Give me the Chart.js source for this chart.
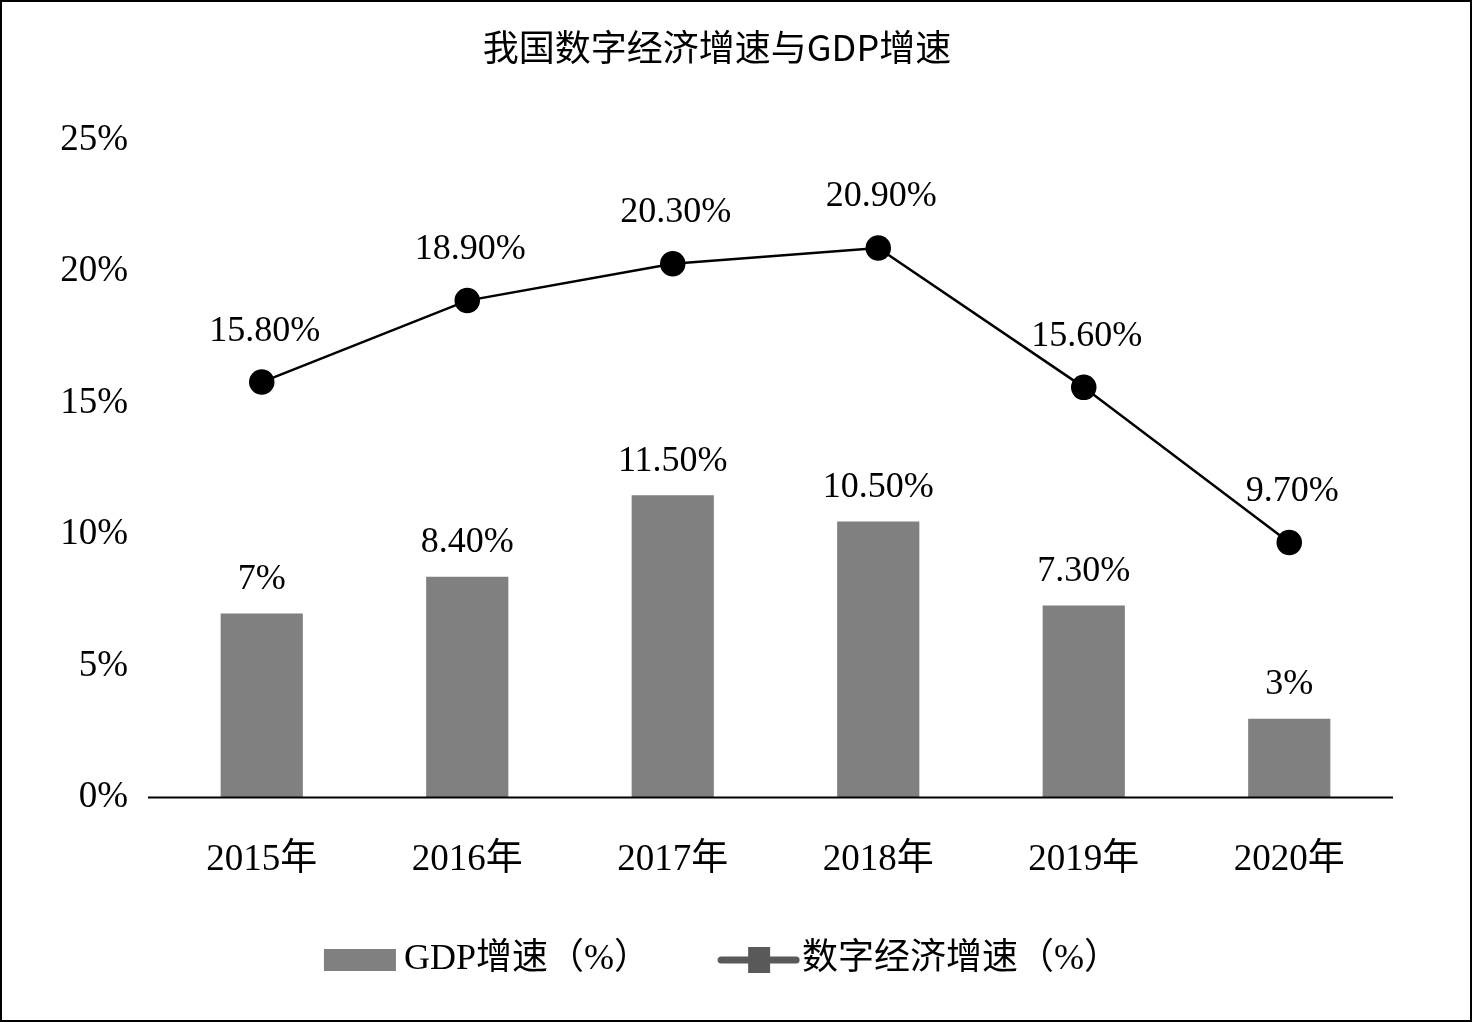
<!DOCTYPE html>
<html>
<head>
<meta charset="utf-8">
<script src="https://cdn.jsdelivr.net/npm/chart.js@4.4.1/dist/chart.umd.min.js"></script>
<style>
html,body{margin:0;padding:0;background:#fff;}
#wrap{width:1472px;height:1022px;position:relative;}
</style>
</head>
<body>
<div id="wrap"><canvas id="c" width="1472" height="1022"></canvas></div>
<script>
const categories = ['2015年','2016年','2017年','2018年','2019年','2020年'];
const gdpGrowth = [7, 8.4, 11.5, 10.5, 7.3, 3];
const digitalGrowth = [15.8, 18.9, 20.3, 20.9, 15.6, 9.7];
const gdpLabels = ['7%','8.40%','11.50%','10.50%','7.30%','3%'];
const digitalLabels = ['15.80%','18.90%','20.30%','20.90%','15.60%','9.70%'];
const yTicks = [0, 5, 10, 15, 20, 25];
const legendNames = ['GDP增速（%）', '数字经济增速（%）'];

const SERIF = '"Liberation Serif", "Times New Roman", "Noto Sans CJK SC", serif';

function makeBarIcon(){
  const c = document.createElement('canvas');
  c.width = 120; c.height = 26;
  const x = c.getContext('2d');
  x.fillStyle = '#808080';
  x.fillRect(34, 2, 72, 22);
  return c;
}
function makeLineIcon(){
  const c = document.createElement('canvas');
  c.width = 120; c.height = 30;
  const x = c.getContext('2d');
  x.strokeStyle = '#595959';
  x.lineWidth = 7;
  x.lineCap = 'round';
  x.beginPath(); x.moveTo(33, 15); x.lineTo(108, 15); x.stroke();
  x.fillStyle = '#595959';
  x.fillRect(60, 2, 22, 26);
  return c;
}
const barIcon = makeBarIcon();
const lineIcon = makeLineIcon();

const decor = {
  id: 'decor',
  afterDraw(chart){
    const ctx = chart.ctx;
    const y0 = chart.scales.y.getPixelForValue(0);
    ctx.save();
    ctx.strokeStyle = '#000';
    ctx.lineWidth = 2;
    ctx.beginPath();
    ctx.moveTo(148, y0); ctx.lineTo(1393, y0);
    ctx.stroke();
    ctx.fillStyle = '#000';
    ctx.font = '36px ' + SERIF;
    ctx.textAlign = 'center';
    ctx.textBaseline = 'middle';
    const barMeta = chart.getDatasetMeta(0);
    barMeta.data.forEach((el, i) => {
      ctx.fillText(gdpLabels[i], el.x, el.y - 34);
    });
    const lineMeta = chart.getDatasetMeta(1);
    lineMeta.data.forEach((el, i) => {
      ctx.fillText(digitalLabels[i], el.x + 3, el.y - 51);
    });
    ctx.lineWidth = 2;
    ctx.strokeRect(1, 1, chart.width - 2, chart.height - 2);
    ctx.restore();
  }
};

new Chart(document.getElementById('c'), {
  data: {
    labels: categories,
    datasets: [
      {
        type: 'bar',
        label: legendNames[0],
        data: gdpGrowth,
        backgroundColor: '#808080',
        barPercentage: 0.8,
        categoryPercentage: 0.5,
        order: 2
      },
      {
        type: 'line',
        label: legendNames[1],
        data: digitalGrowth,
        borderColor: '#000',
        borderWidth: 2.5,
        backgroundColor: '#000',
        pointRadius: 11.5,
        pointHoverRadius: 11.5,
        pointBackgroundColor: '#000',
        pointBorderColor: '#000',
        pointStyle: 'circle',
        order: 1,
        tension: 0
      }
    ]
  },
  options: {
    responsive: false,
    animation: false,
    devicePixelRatio: 1,
    layout: { padding: { left: 0, right: 38, top: 0, bottom: 34 } },
    plugins: {
      title: {
        display: true,
        text: '我国数字经济增速与GDP增速',
        color: '#000',
        font: { family: '"Noto Sans CJK SC", sans-serif', size: 36, weight: '400', lineHeight: 1.2 },
        padding: { top: 26, bottom: 71 }
      },
      legend: {
        display: true,
        position: 'bottom',
        labels: {
          color: '#000',
          font: { family: SERIF, size: 36 },
          usePointStyle: true,
          pointStyleWidth: 72,
          boxHeight: 36,
          padding: 19,
          generateLabels(chart){
            return [
              { text: legendNames[0] + '    \u2009', pointStyle: barIcon, fillStyle: '#808080', strokeStyle: '#808080', lineWidth: 0, datasetIndex: 0, hidden: false },
              { text: legendNames[1], pointStyle: lineIcon, fillStyle: '#595959', strokeStyle: '#595959', lineWidth: 0, datasetIndex: 1, hidden: false }
            ];
          }
        }
      },
      tooltip: { enabled: false }
    },
    scales: {
      x: {
        offset: true,
        grid: { display: false, drawTicks: false },
        border: { display: false },
        ticks: { color: '#000', font: { family: SERIF, size: 37, lineHeight: 0.85 }, padding: 47 }
      },
      y: {
        min: 0, max: 25,
        afterBuildTicks(s){ s.ticks = yTicks.map(v => ({ value: v })); },
        afterFit(s){ s.width = 159; },
        grid: { display: false, drawTicks: false },
        border: { display: false },
        ticks: { color: '#000', font: { family: SERIF, size: 37 }, padding: 31, callback: v => v + '%' }
      },
      y2: {
        position: 'right',
        display: true,
        grid: { display: false, drawTicks: false },
        border: { display: false },
        ticks: { display: false },
        afterFit(s){ s.width = 42; }
      }
    }
  },
  plugins: [decor]
});
</script>
</body>
</html>
